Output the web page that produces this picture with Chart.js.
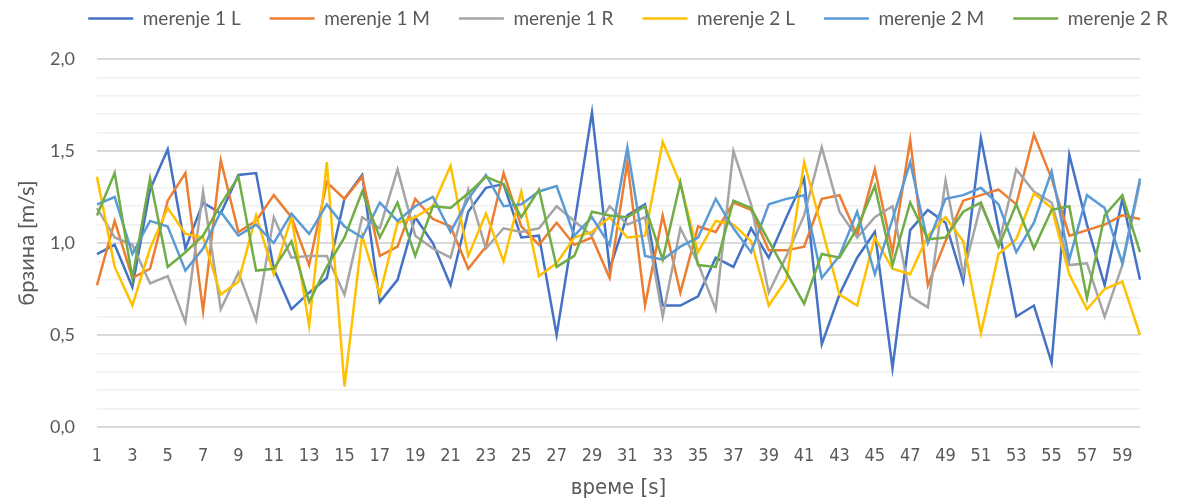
<!DOCTYPE html>
<html>
<head>
<meta charset="utf-8">
<script src="https://cdn.jsdelivr.net/npm/chart.js@4/dist/chart.umd.min.js"></script>
<style>
  body { margin: 0; background: #fff; }
  #wrap { width: 1194px; height: 501px; }
</style>
</head>
<body>
<div id="wrap"><canvas id="chart" width="1194" height="501"></canvas></div>
<script>
// time axis: 1..60 s
const seconds = Array.from({ length: 60 }, (_, i) => String(i + 1));

// speed readings [m/s] per measurement run
const merenje1L = [0.94, 0.99, 0.76, 1.29, 1.51, 0.97, 1.22, 1.16, 1.37, 1.38,
  0.86, 0.64, 0.73, 0.81, 1.24, 1.37, 0.68, 0.80, 1.14, 1.00,
  0.77, 1.17, 1.30, 1.32, 1.03, 1.04, 0.50, 1.10, 1.71, 0.86,
  1.15, 1.21, 0.66, 0.66, 0.71, 0.92, 0.87, 1.08, 0.92, 1.14,
  1.35, 0.45, 0.72, 0.92, 1.06, 0.32, 1.07, 1.18, 1.11, 0.79,
  1.57, 1.08, 0.60, 0.66, 0.35, 1.48, 1.10, 0.77, 1.24, 0.80];
const merenje1M = [0.77, 1.12, 0.81, 0.86, 1.23, 1.38, 0.63, 1.45, 1.06, 1.12,
  1.26, 1.14, 0.88, 1.33, 1.24, 1.36, 0.93, 0.98, 1.24, 1.13,
  1.09, 0.86, 0.98, 1.38, 1.09, 0.99, 1.11, 0.99, 1.03, 0.81,
  1.44, 0.66, 1.15, 0.73, 1.09, 1.06, 1.22, 1.18, 0.96, 0.96,
  0.98, 1.24, 1.26, 1.04, 1.40, 0.95, 1.56, 0.77, 1.01, 1.23,
  1.26, 1.29, 1.21, 1.59, 1.35, 1.04, 1.07, 1.10, 1.15, 1.13];
const merenje1R = [1.19, 1.03, 0.99, 0.78, 0.82, 0.57, 1.28, 0.64, 0.84, 0.58,
  1.14, 0.92, 0.93, 0.93, 0.72, 1.14, 1.08, 1.40, 1.04, 0.97,
  0.92, 1.29, 0.97, 1.08, 1.06, 1.08, 1.20, 1.12, 1.04, 1.20,
  1.10, 1.14, 0.60, 1.08, 0.89, 0.64, 1.50, 1.21, 0.73, 0.93,
  1.15, 1.52, 1.17, 1.03, 1.14, 1.20, 0.71, 0.65, 1.34, 0.83,
  1.21, 0.99, 1.40, 1.28, 1.22, 0.88, 0.89, 0.60, 0.88, 1.33];
const merenje2L = [1.36, 0.87, 0.66, 0.97, 1.19, 1.05, 1.03, 0.72, 0.79, 1.15,
  0.83, 1.14, 0.55, 1.44, 0.22, 1.04, 0.72, 1.11, 1.14, 1.20,
  1.42, 0.93, 1.16, 0.90, 1.28, 0.82, 0.89, 1.03, 1.06, 1.14,
  1.03, 1.04, 1.55, 1.32, 0.95, 1.12, 1.10, 1.01, 0.66, 0.80,
  1.44, 1.08, 0.72, 0.66, 1.03, 0.86, 0.83, 1.04, 1.14, 1.01,
  0.51, 0.94, 1.02, 1.27, 1.19, 0.83, 0.64, 0.75, 0.79, 0.50];
const merenje2M = [1.21, 1.25, 0.94, 1.12, 1.09, 0.85, 0.97, 1.17, 1.04, 1.10,
  1.00, 1.16, 1.05, 1.21, 1.09, 1.03, 1.22, 1.12, 1.20, 1.25,
  1.06, 1.24, 1.37, 1.20, 1.21, 1.28, 1.31, 1.04, 1.14, 0.99,
  1.52, 0.93, 0.91, 0.98, 1.03, 1.24, 1.08, 0.95, 1.21, 1.24,
  1.26, 0.81, 0.93, 1.17, 0.83, 1.13, 1.44, 1.00, 1.24, 1.26,
  1.30, 1.21, 0.95, 1.11, 1.39, 0.91, 1.26, 1.19, 0.89, 1.35];
const merenje2R = [1.15, 1.38, 0.81, 1.35, 0.87, 0.95, 1.04, 1.21, 1.36, 0.85,
  0.86, 1.01, 0.68, 0.87, 1.03, 1.28, 1.03, 1.22, 0.93, 1.20,
  1.19, 1.27, 1.36, 1.32, 1.14, 1.29, 0.87, 0.93, 1.17, 1.15,
  1.14, 1.20, 0.91, 1.33, 0.88, 0.87, 1.23, 1.19, 1.01, 0.84,
  0.67, 0.94, 0.92, 1.08, 1.31, 0.88, 1.22, 1.02, 1.03, 1.17,
  1.22, 0.98, 1.21, 0.97, 1.18, 1.20, 0.70, 1.15, 1.26, 0.95];

const seriesNames = ["merenje 1 L", "merenje 1 M", "merenje 1 R", "merenje 2 L", "merenje 2 M", "merenje 2 R"];
const seriesData = [merenje1L, merenje1M, merenje1R, merenje2L, merenje2M, merenje2R];
const seriesColors = ["#4472C4", "#ED7D31", "#A5A5A5", "#FFC000", "#5B9BD5", "#70AD47"];

const textColor = "#595959";
const baseFont = "Lato, 'Noto Sans', sans-serif";
const narrowFont = "'Liberation Sans Narrow', 'DejaVu Sans Condensed', " + baseFont;

// later series are painted on top of earlier ones
const datasets = seriesData.map((values, i) => ({
  label: seriesNames[i],
  data: values,
  borderColor: seriesColors[i],
  backgroundColor: seriesColors[i],
  borderWidth: 2.5,
  pointRadius: 0,
  tension: 0,
  order: seriesData.length - i,
}));

// legend row: extra gap below it and a nudge to the right
const legendTweak = {
  id: "legendTweak",
  beforeInit(chart) {
    const fit = chart.legend.fit;
    chart.legend.fit = function () {
      fit.bind(chart.legend)();
      this.height += 21;
    };
  },
  afterLayout(chart) {
    chart.legend.left += 58;
    chart.legend.right += 58;
  },
};

const isMajor = (v) => Math.abs(v * 2 - Math.round(v * 2)) < 1e-6;

new Chart(document.getElementById("chart"), {
  type: "line",
  data: { labels: seconds, datasets: datasets },
  plugins: [legendTweak],
  options: {
    responsive: false,
    animation: false,
    layout: { padding: { left: 0, right: 54, top: -20, bottom: 0 } },
    plugins: {
      tooltip: { enabled: false },
      legend: {
        position: "top",
        labels: {
          color: textColor,
          font: { family: baseFont, size: 19 },
          usePointStyle: true,
          pointStyle: "line",
          pointStyleWidth: 45,
          padding: 29,
          sort: (a, b) => a.datasetIndex - b.datasetIndex,
        },
      },
    },
    scales: {
      x: {
        offset: false,
        grid: { display: false, drawTicks: false },
        border: { display: false },
        ticks: {
          autoSkip: false,
          maxRotation: 0,
          color: textColor,
          padding: 19,
          font: { family: narrowFont, size: 18 },
          callback: function (val, idx) {
            return idx % 2 === 0 ? this.getLabelForValue(val) : "";
          },
        },
        title: {
          display: true,
          text: "време [s]",
          color: textColor,
          font: { family: narrowFont, size: 22 },
          padding: { top: 4, bottom: 0 },
        },
        afterFit: (scale) => { scale.height = 74; },
      },
      y: {
        min: 0,
        max: 2,
        border: { display: false },
        grid: {
          drawTicks: false,
          color: (ctx) => (isMajor(ctx.tick.value) ? "#d9d9d9" : "#f0f0f0"),
          lineWidth: (ctx) => (isMajor(ctx.tick.value) ? 2 : 1.5),
        },
        ticks: {
          stepSize: 0.1,
          autoSkip: false,
          color: textColor,
          padding: 22,
          font: { family: baseFont, size: 18 },
          callback: (v) => (isMajor(v) ? v.toFixed(1).replace(".", ",") : ""),
        },
        title: {
          display: true,
          text: "брзина [m/s]",
          color: textColor,
          font: { family: baseFont, size: 22 },
          padding: { top: 14, bottom: 0 },
        },
        afterFit: (scale) => { scale.width = 97; },
      },
    },
  },
});
</script>
</body>
</html>
